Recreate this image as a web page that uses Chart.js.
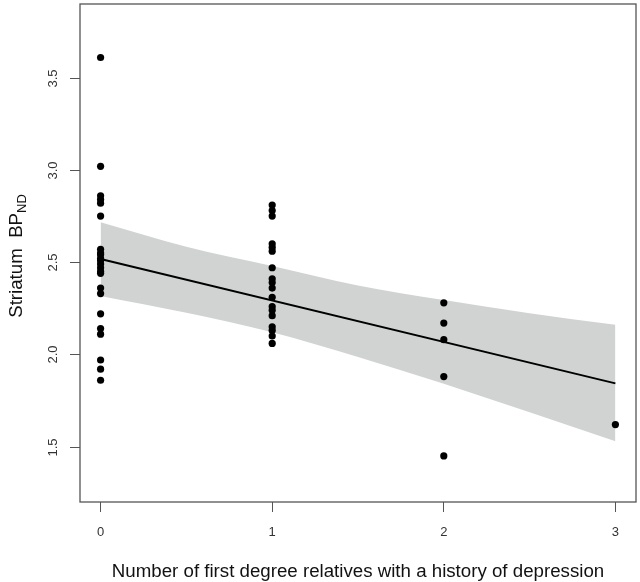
<!DOCTYPE html>
<html>
<head>
<meta charset="utf-8">
<script src="https://cdn.jsdelivr.net/npm/chart.js@4.4.1/dist/chart.umd.min.js"></script>
<style>
  html, body { margin: 0; padding: 0; background: #ffffff; }
  #wrap { width: 640px; height: 582px; position: relative; }
</style>
</head>
<body>
<div id="wrap"><canvas id="c"></canvas></div>
<script>
// ---- data ----
const xCategories = [0, 1, 2, 3];
const xTickLabels = ['0', '1', '2', '3'];
const yTicks = [1.5, 2.0, 2.5, 3.0, 3.5];
const yTickLabels = ['1.5', '2.0', '2.5', '3.0', '3.5'];

const bpRelatives0 = [3.61, 3.02, 2.86, 2.84, 2.82, 2.75, 2.57, 2.55, 2.54, 2.52, 2.51, 2.49, 2.47, 2.45, 2.44, 2.36, 2.33, 2.22, 2.14, 2.11, 1.97, 1.92, 1.86];
const bpRelatives1 = [2.81, 2.78, 2.75, 2.60, 2.58, 2.56, 2.47, 2.41, 2.39, 2.36, 2.31, 2.26, 2.24, 2.21, 2.15, 2.13, 2.10, 2.06];
const bpRelatives2 = [2.28, 2.17, 2.08, 1.88, 1.45];
const bpRelatives3 = [1.62];

const fitX = [0, 3];
const fitY = [2.517, 1.843];

const bandX = [0, 0.5, 1, 1.5, 2, 2.5, 3];
const bandUpper = [2.717, 2.584, 2.48, 2.374, 2.295, 2.224, 2.161];
const bandLower = [2.317, 2.226, 2.12, 1.986, 1.841, 1.686, 1.529];

const xTitle = 'Number of first degree relatives with a history of depression';
const yTitleMain = 'Striatum  BP';
const yTitleSub = 'ND';

// ---- build datasets ----
const groups = [bpRelatives0, bpRelatives1, bpRelatives2, bpRelatives3];
const points = [];
groups.forEach((g, i) => g.forEach(v => points.push({ x: xCategories[i], y: v })));
const fitData = fitX.map((x, i) => ({ x: x, y: fitY[i] }));
const upperData = bandX.map((x, i) => ({ x: x, y: bandUpper[i] }));
const lowerData = bandX.map((x, i) => ({ x: x, y: bandLower[i] }));

const FONT = "'Liberation Sans', Arial, Helvetica, sans-serif";

const decor = {
  id: 'decor',
  afterDraw(chart) {
    const ctx = chart.ctx;
    const a = chart.chartArea;
    const ys = chart.scales.y;
    ctx.save();
    // box
    ctx.strokeStyle = '#555555';
    ctx.lineWidth = 1.3;
    ctx.strokeRect(a.left, a.top, a.right - a.left, a.bottom - a.top);
    // y tick marks and rotated labels
    ctx.lineWidth = 1;
    ctx.fillStyle = '#333333';
    ctx.font = '13px ' + FONT;
    ctx.textAlign = 'center';
    ctx.textBaseline = 'middle';
    yTicks.forEach((v, i) => {
      const py = Math.round(ys.getPixelForValue(v)) + 0.5;
      ctx.beginPath();
      ctx.moveTo(a.left - 10, py);
      ctx.lineTo(a.left, py);
      ctx.stroke();
      ctx.save();
      ctx.translate(53, py);
      ctx.rotate(-Math.PI / 2);
      ctx.fillText(yTickLabels[i], 0, 0);
      ctx.restore();
    });
    // x title
    ctx.fillStyle = '#111111';
    ctx.font = '18.7px ' + FONT;
    ctx.textAlign = 'center';
    ctx.textBaseline = 'alphabetic';
    ctx.fillText(xTitle, (a.left + a.right) / 2, 577);
    // y title with subscript
    ctx.font = '18.7px ' + FONT;
    const w1 = ctx.measureText(yTitleMain).width;
    ctx.font = '13px ' + FONT;
    const w2 = ctx.measureText(yTitleSub).width;
    const total = w1 + w2;
    ctx.save();
    ctx.translate(22, (a.top + a.bottom) / 2 + 3);
    ctx.rotate(-Math.PI / 2);
    ctx.textAlign = 'left';
    ctx.font = '18.7px ' + FONT;
    ctx.fillText(yTitleMain, -total / 2, 0);
    ctx.font = '13px ' + FONT;
    ctx.fillText(yTitleSub, -total / 2 + w1, 4);
    ctx.restore();
    ctx.restore();
  }
};

new Chart(document.getElementById('c'), {
  type: 'scatter',
  data: {
    datasets: [
      {
        label: 'points',
        data: points,
        backgroundColor: '#000000',
        borderColor: '#000000',
        pointRadius: 3.6,
        pointBorderWidth: 0,
        showLine: false
      },
      {
        type: 'line',
        label: 'fit',
        data: fitData,
        borderColor: '#000000',
        borderWidth: 2,
        pointRadius: 0,
        fill: false
      },
      {
        type: 'line',
        label: 'upper',
        data: upperData,
        borderWidth: 0,
        borderColor: 'rgba(0,0,0,0)',
        backgroundColor: '#d1d3d3',
        pointRadius: 0,
        cubicInterpolationMode: 'monotone',
        fill: '+1'
      },
      {
        type: 'line',
        label: 'lower',
        data: lowerData,
        borderWidth: 0,
        borderColor: 'rgba(0,0,0,0)',
        pointRadius: 0,
        cubicInterpolationMode: 'monotone',
        fill: false
      }
    ]
  },
  options: {
    responsive: true,
    maintainAspectRatio: false,
    devicePixelRatio: 1,
    animation: false,
    layout: { padding: { top: 3, right: 3, left: 0, bottom: 0 } },
    plugins: { legend: { display: false }, tooltip: { enabled: false } },
    scales: {
      x: {
        type: 'linear',
        min: -0.12,
        max: 3.12,
        afterBuildTicks: s => { s.ticks = xCategories.map(v => ({ value: v })); },
        afterFit: s => { s.height = 80; },
        grid: { display: true, drawOnChartArea: false, drawTicks: true, tickLength: 10, color: '#555555', lineWidth: 1 },
        border: { display: false },
        ticks: {
          color: '#333333',
          font: { size: 13, family: FONT },
          padding: 13,
          maxRotation: 0,
          callback: (v) => { const i = xCategories.indexOf(v); return i >= 0 ? xTickLabels[i] : ''; }
        }
      },
      y: {
        type: 'linear',
        min: 1.2,
        max: 3.9,
        afterBuildTicks: s => { s.ticks = yTicks.map(v => ({ value: v })); },
        afterFit: s => { s.width = 80; },
        grid: { display: false },
        border: { display: false },
        ticks: { display: false }
      }
    }
  },
  plugins: [decor]
});
</script>
</body>
</html>
